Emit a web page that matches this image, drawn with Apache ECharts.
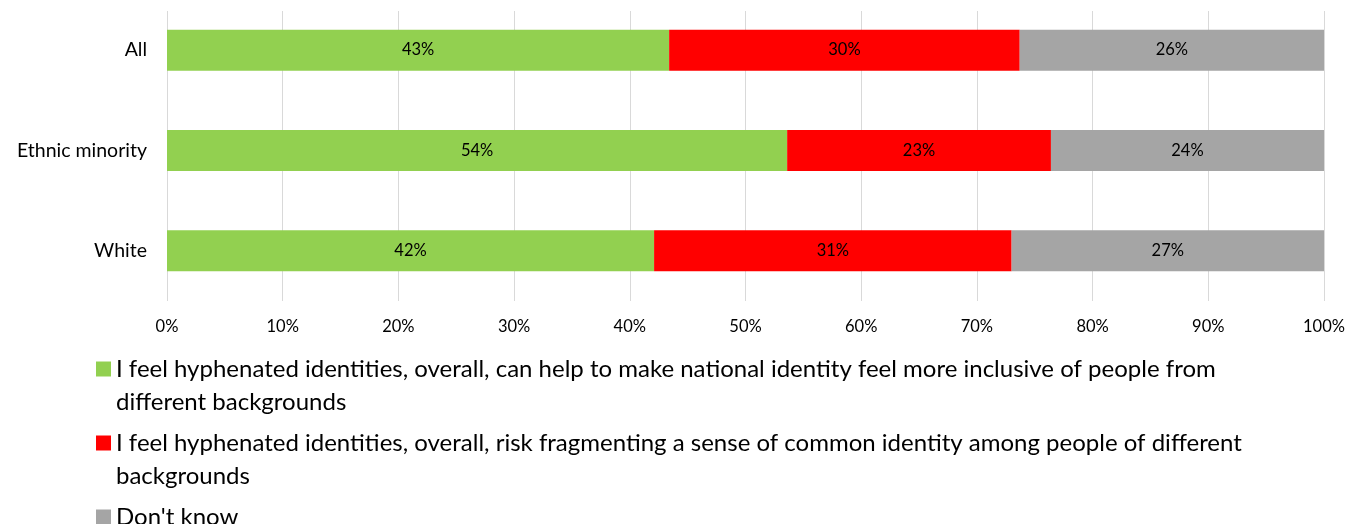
<!DOCTYPE html>
<html>
<head>
<meta charset="utf-8">
<script src="https://cdn.jsdelivr.net/npm/echarts@6/dist/echarts.min.js"></script>
<style>
  html, body { margin: 0; padding: 0; background: #fff; }
  #chart { width: 1349px; height: 524px; }
</style>
</head>
<body>
<div id="chart"></div>
<script>
// categories top to bottom
var categories = ['All', 'Ethnic minority', 'White'];
var seriesNames = [
  'I feel hyphenated identities, overall, can help to make national identity feel more inclusive of people from different backgrounds',
  'I feel hyphenated identities, overall, risk fragmenting a sense of common identity among people of different backgrounds',
  "Don't know"
];
// legend text split as in the picture
var legendLines = [
  ['I feel hyphenated identities, overall, can help to make national identity feel more inclusive of people from', 'different backgrounds'],
  ['I feel hyphenated identities, overall, risk fragmenting a sense of common identity among people of different', 'backgrounds'],
  ["Don't know"]
];
var inclusive = [43.4, 53.6, 42.1];
var fragmenting = [30.3, 22.8, 30.9];
var dontKnow = [26.3, 23.6, 27.0];
var colors = ['#92D050', '#FF0000', '#A5A5A5'];

var FONT = 'Lato';
var LINE_H = 33;

function makeLegend(i, top) {
  var lines = legendLines[i];
  // legend text is centred on the square, so pad with empty lines on top
  // to keep the first line level with it
  var pad = [];
  for (var k = 1; k < lines.length; k++) pad.push('');
  return {
    show: true,
    orient: 'vertical',
    left: 96,
    top: top,
    padding: 0,
    itemWidth: 15,
    itemHeight: 15,
    itemGap: 0,
    icon: 'rect',
    selectedMode: false,
    data: [seriesNames[i]],
    formatter: function () { return pad.concat(lines).join('\n'); },
    textStyle: {
      fontFamily: FONT,
      fontSize: 24,
      color: '#000',
      lineHeight: LINE_H
    }
  };
}

var chart = echarts.init(document.getElementById('chart'));
var option = {
  animation: false,
  color: colors,
  grid: [
    { left: 167, right: 25, top: 11, bottom: 223 },
    { left: 167, right: 25, top: -1, bottom: 223 }
  ],
  legend: [makeLegend(0, 319.5), makeLegend(1, 393.5), makeLegend(2, 500.5)],
  xAxis: [
    {
      gridIndex: 0,
      type: 'value',
      min: 0,
      max: 100,
      interval: 10,
      axisLine: { show: false },
      axisTick: { show: false },
      splitLine: { show: true, lineStyle: { color: '#D9D9D9', width: 1 } },
      axisLabel: {
        formatter: '{value}%',
        color: '#000',
        fontFamily: FONT,
        fontSize: 16.5,
        margin: 17
      }
    },
    {
      gridIndex: 1,
      type: 'value',
      min: 0,
      max: 100,
      show: false
    }
  ],
  yAxis: [
    { gridIndex: 0, type: 'value', show: false },
    {
      gridIndex: 1,
      type: 'category',
      inverse: true,
      data: categories,
      axisLine: { show: false },
      axisTick: { show: false },
      splitLine: { show: false },
      axisLabel: {
        color: '#000',
        fontFamily: FONT,
        fontSize: 19.5,
        margin: 20
      }
    }
  ],
  series: [inclusive, fragmenting, dontKnow].map(function (vals, i) {
    return {
      name: seriesNames[i],
      type: 'bar',
      stack: 'total',
      xAxisIndex: 1,
      yAxisIndex: 1,
      barWidth: 41,
      data: vals,
      label: {
        show: true,
        position: 'inside',
        color: '#000',
        fontFamily: FONT,
        fontSize: 16.5,
        formatter: function (p) { return Math.round(p.value) + '%'; }
      }
    };
  })
};
chart.setOption(option);
window.addEventListener('resize', function () { chart.resize(); });
</script>
</body>
</html>
